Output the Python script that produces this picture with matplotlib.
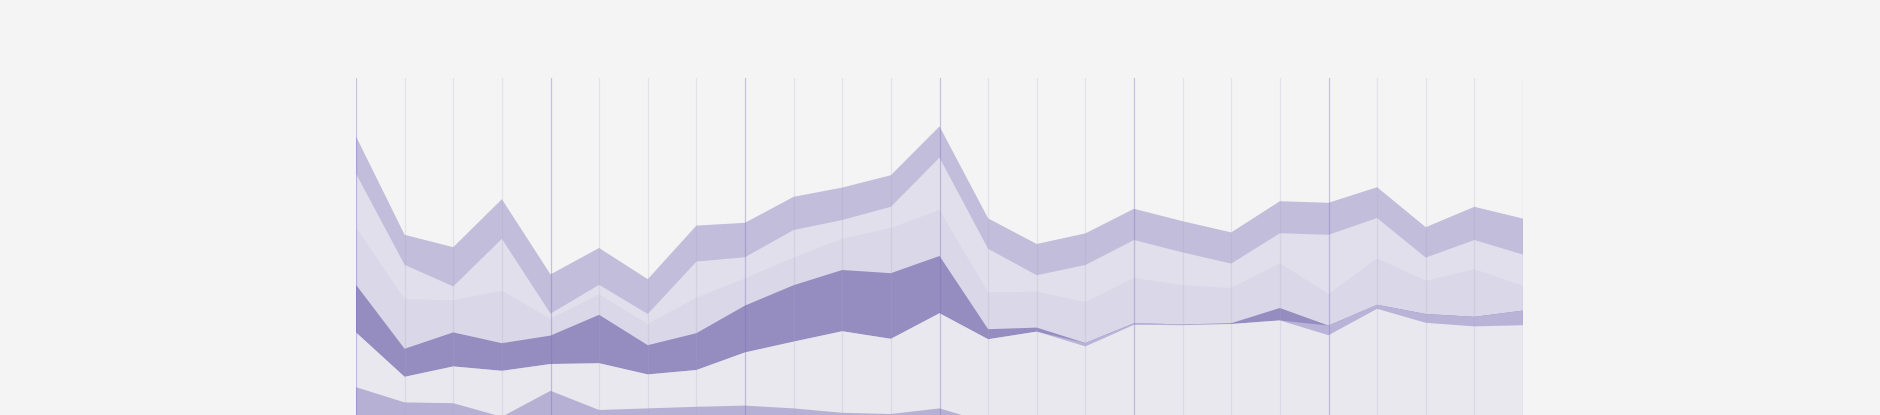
"""
Stacked purple area chart on a light grey page, drawn with plain matplotlib.
The lowest layers run off the bottom edge of the figure, as in the original.
"""

import numpy as np
import matplotlib.pyplot as plt

# 25 samples along the x axis, a major grid line every 4th one
steps = list(range(25))
majorEvery = 4

# layer thicknesses, bottom layer first
layerF = [18.2, 14.4, 14.2, 10.8, 17.3, 12.5, 12.9, 13.3, 13.6, 12.9, 11.8, 11.5, 12.9,
          9.3, 7.0, 7.1, 7.0, 6.9, 7.0, 7.1, 7.0, 6.9, 7.0, 7.1, 7.0]
layerE = [13.7, 6.4, 9.2, 11.5, 6.7, 11.7, 8.5, 9.2, 13.3, 16.7, 20.4, 18.8, 23.8,
          20.9, 25.1, 21.3, 26.8, 26.8, 27.0, 27.8, 24.2, 30.9, 27.3, 26.3, 26.7]
layerG = [0, 0, 0, 0, 0, 0, 0, 0, 0, 0, 0, 0, 0,
          0, 0, 0.85, 0.4, 0.2, 0, 0, 2.4, 1.0, 2.2, 2.4, 3.65]
layerD = [11.9, 7.0, 8.5, 6.9, 7.1, 12.1, 7.3, 9.2, 11.7, 14.1, 15.3, 16.4, 14.3,
          2.5, 1.0, 0, 0, 0, 0.2, 3.1, 0, 0, 0, 0, 0]
layerC = [14.3, 12.4, 8.0, 13.1, 4.2, 5.1, 5.3, 8.9, 6.8, 6.9, 7.8, 11.3, 11.5,
          9.2, 9.0, 10.2, 11.3, 9.8, 8.8, 11.2, 7.9, 11.6, 8.3, 11.9, 6.2]
layerB = [13.5, 8.6, 3.5, 13.0, 1.3, 2.4, 2.5, 9.0, 5.3, 6.9, 4.7, 5.3, 13.1,
          10.9, 4.1, 9.3, 9.5, 8.2, 6.1, 7.5, 14.8, 10.1, 5.8, 7.3, 7.8]
layerA = [9.3, 7.5, 9.8, 9.9, 9.8, 9.2, 8.7, 9.0, 8.6, 8.3, 8.1, 7.9, 7.8,
          7.6, 7.8, 7.9, 7.8, 7.8, 7.8, 8.0, 8.0, 7.7, 7.6, 8.3, 9.0]

layers = [layerF, layerE, layerG, layerD, layerC, layerB, layerA]
colors = ['#b6b0d5', '#e9e8ee', '#b9b3d8', '#958cc0', '#dad7e8', '#e1dfec', '#c2bddb']

BG = '#f4f4f4'

fig = plt.figure(figsize=(18.8, 4.15), dpi=100)
fig.patch.set_facecolor(BG)

# axes reach below the figure so the base of the stack is cut off
ax = fig.add_axes([356/1880, -45/415, (1523-356)/1880, 382/415])
ax.set_xlim(0, 24)
ax.set_ylim(0, 95.5)
ax.axis('off')

# fill every cumulative top down to zero, top layer first (no seams)
x = np.array(steps)
tops = np.cumsum(np.array(layers, dtype=float), axis=0)
for i in reversed(range(len(layers))):
    ax.fill_between(x, 0, tops[i], facecolor=colors[i], linewidth=0, zorder=1)

# vertical grid lines drawn over the areas
for s in steps:
    if s % majorEvery == 0:
        ax.axvline(s, color='#7d72c0', alpha=0.39, lw=0.9, zorder=3)
    else:
        ax.axvline(s, color='#a9a5c4', alpha=0.21, lw=0.9, zorder=3)

fig.savefig('out.png', dpi=100, facecolor=BG)
